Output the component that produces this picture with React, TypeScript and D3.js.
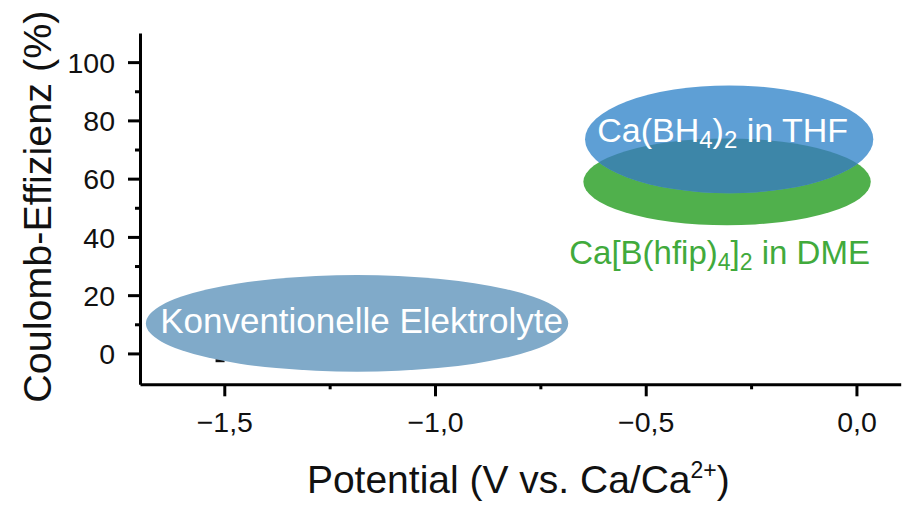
import * as d3 from 'd3'
import React from 'react'

// electrolyte regions: centre and half-span, in data units
const regionNames = ['Konventionelle Elektrolyte', 'Ca[B(hfip)4]2 in DME', 'Ca(BH4)2 in THF']
const centerPotential = [-1.185, -0.307, -0.302]
const centerEfficiency = [10.3, 58.9, 73.5]
const halfSpanPotential = [0.501, 0.341, 0.342]
const halfSpanEfficiency = [16.6, 14.9, 18.5]

// a data point that peeks out under the conventional electrolyte region
const hiddenPotential = [-1.51]
const hiddenEfficiency = [-2.5]

const xMajorTicks = [-1.5, -1.0, -0.5, 0.0]
const xMinorTicks = [-1.25, -0.75, -0.25]
const yMajorTicks = [0, 20, 40, 60, 80, 100]
const yMinorTicks = [10, 30, 50, 70, 90]

const width = 918
const height = 526
const plot = { left: 140, right: 900.7, top: 33, bottom: 384.3 }
const font = "'Liberation Sans', Arial, Helvetica, sans-serif"

const colors = {
    conventional: '#80aac9',
    thf: '#5e9fd5',
    dme: '#50b04c',
    overlap: '#3d86a8',
    dmeText: '#41aa3c',
}

const locale = d3.formatLocale({
    decimal: ',',
    thousands: '.',
    grouping: [3],
    currency: ['', ' €'],
    minus: '\u2212',
})
const fmt = locale.format('.1f')

export default function App() {
    const xAxisRef = React.useRef<SVGGElement | null>(null)
    const yAxisRef = React.useRef<SVGGElement | null>(null)

    const x = d3.scaleLinear().domain([-1.7, 0.105]).range([plot.left, plot.right])
    const y = d3.scaleLinear().domain([-10.6, 110]).range([plot.bottom, plot.top])

    React.useEffect(() => {
        const gx = d3.select(xAxisRef.current)
        gx.selectAll('*').remove()
        gx.append('g')
            .call(d3.axisBottom(x).tickValues(xMinorTicks).tickSize(5).tickSizeOuter(0).tickFormat(() => ''))
            .call((g) => g.select('.domain').remove())
        const major = gx
            .append('g')
            .call(d3.axisBottom(x).tickValues(xMajorTicks).tickSize(12).tickSizeOuter(0).tickFormat((d) => fmt(d as number)))
        major.selectAll('text').attr('y', 47.4).attr('dy', 0)
        gx.selectAll('.domain').attr('stroke-width', 3)
        gx.selectAll('.tick line').attr('stroke-width', 3)
        gx.selectAll('text').attr('font-size', 28.5).attr('font-family', font).attr('fill', '#111')

        const gy = d3.select(yAxisRef.current)
        gy.selectAll('*').remove()
        gy.append('g')
            .call(d3.axisLeft(y).tickValues(yMinorTicks).tickSize(5).tickSizeOuter(0).tickFormat(() => ''))
            .call((g) => g.select('.domain').remove())
        gy.append('g').call(d3.axisLeft(y).tickValues(yMajorTicks).tickSize(12).tickSizeOuter(0).tickPadding(13))
        gy.selectAll('.domain').attr('stroke-width', 3)
        gy.selectAll('.tick line').attr('stroke-width', 3)
        gy.selectAll('text').attr('font-size', 28.5).attr('font-family', font).attr('fill', '#111').attr('dy', '0.36em')
    }, [])

    const ell = (i: number) => ({
        cx: x(centerPotential[i]),
        cy: y(centerEfficiency[i]),
        rx: x(centerPotential[i] + halfSpanPotential[i]) - x(centerPotential[i]),
        ry: y(centerEfficiency[i] - halfSpanEfficiency[i]) - y(centerEfficiency[i]),
    })
    const conv = ell(0)
    const dme = ell(1)
    const thf = ell(2)

    return (
        <div style={{ position: 'absolute', left: 0, top: 0 }}>
            <svg width={width} height={height} style={{ display: 'block', background: '#fff' }}>
                <defs>
                    <clipPath id="dme-clip">
                        <ellipse {...dme} />
                    </clipPath>
                </defs>

                {hiddenPotential.map((p, i) => (
                    <rect key={i} x={x(p) - 4.5} y={y(hiddenEfficiency[i]) - 1.5} width={9} height={3} fill="#111" />
                ))}

                <ellipse {...conv} fill={colors.conventional} />
                <ellipse {...dme} fill={colors.dme} />
                <ellipse {...thf} fill={colors.thf} />
                <ellipse {...thf} fill={colors.overlap} clipPath="url(#dme-clip)" />

                <g ref={xAxisRef} transform={`translate(0,${plot.bottom})`} />
                <g ref={yAxisRef} transform={`translate(${plot.left},0)`} />

                <text
                    x={conv.cx + 4.5}
                    y={conv.cy + 10}
                    textAnchor="middle"
                    fontFamily={font}
                    fontSize={35}
                    fill="#fff"
                >
                    {regionNames[0]}
                </text>

                <text x={thf.cx - 6.5} y={thf.cy + 3} textAnchor="middle" fontFamily={font} fontSize={34} fill="#fff">
                    Ca(BH
                    <tspan fontSize={24} dy={6}>4</tspan>
                    <tspan dy={-6}>)</tspan>
                    <tspan fontSize={24} dy={6}>2</tspan>
                    <tspan dy={-6}> in THF</tspan>
                </text>

                <text
                    x={dme.cx - 7.5}
                    y={dme.cy + dme.ry + 39}
                    textAnchor="middle"
                    fontFamily={font}
                    fontSize={33}
                    fill={colors.dmeText}
                >
                    Ca[B(hfip)
                    <tspan fontSize={23} dy={6}>4</tspan>
                    <tspan dy={-6}>]</tspan>
                    <tspan fontSize={23} dy={6}>2</tspan>
                    <tspan dy={-6}> in DME</tspan>
                </text>

                <text
                    transform={`translate(51,${(plot.top + plot.bottom) / 2 - 2}) rotate(-90)`}
                    textAnchor="middle"
                    fontFamily={font}
                    fontSize={39.5}
                    fill="#111"
                >
                    Coulomb-Effizienz (%)
                </text>

                <text
                    x={(plot.left + plot.right) / 2 - 2}
                    y={493}
                    textAnchor="middle"
                    fontFamily={font}
                    fontSize={39}
                    fill="#111"
                >
                    Potential (V vs. Ca/Ca
                    <tspan fontSize={23} dy={-15}>2+</tspan>
                    <tspan dy={15}>)</tspan>
                </text>
            </svg>
        </div>
    )
}
